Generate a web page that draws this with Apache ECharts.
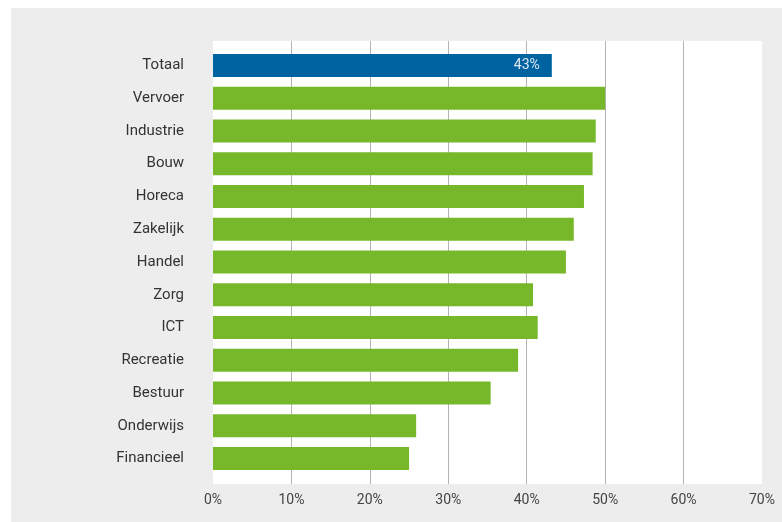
<!DOCTYPE html>
<html>
<head>
<meta charset="utf-8">
<script src="https://cdn.jsdelivr.net/npm/echarts@6/dist/echarts.min.js"></script>
<style>
html,body{margin:0;padding:0;background:#fff;}
#c{width:782px;height:522px;}
</style>
</head>
<body>
<div id="c"></div>
<script>
const categories = ['Totaal','Vervoer','Industrie','Bouw','Horeca','Zakelijk','Handel','Zorg','ICT','Recreatie','Bestuur','Onderwijs','Financieel'];
const values = [43.2, 50.0, 48.8, 48.4, 47.3, 46.0, 45.0, 40.8, 41.4, 38.9, 35.4, 25.9, 25.0];
const totalLabel = '43%';
const xTicks = [0, 10, 20, 30, 40, 50, 60, 70];

const chart = echarts.init(document.getElementById('c'), null, {renderer: 'canvas'});
const font = 'Roboto, "Liberation Sans", sans-serif';

const barData = values.map((v, i) => ({
  value: v,
  itemStyle: {color: i === 0 ? '#0063a1' : '#77b82a'},
  label: i === 0 ? {show: true, position: 'insideRight', distance: 12, formatter: totalLabel, color: '#dde8f2', fontSize: 14, fontFamily: font} : {show: false}
}));

chart.setOption({
  animation: false,
  graphic: [{
    type: 'rect', z: -10, silent: true,
    shape: {x: 11, y: 8, width: 771, height: 514},
    style: {fill: '#ededed'}
  }],
  grid: [
    {left: 213, right: 20, top: 41, bottom: 38, show: true, backgroundColor: '#ffffff', borderWidth: 0},
    {left: 213, right: 20, top: 49, bottom: 47}
  ],
  xAxis: [
    {
      gridIndex: 0, type: 'value', min: 0, max: 70, interval: 10,
      axisLine: {show: false}, axisTick: {show: false},
      splitLine: {show: true, showMinLine: false, showMaxLine: false, lineStyle: {color: '#b3b3b3', width: 1}},
      axisLabel: {formatter: v => xTicks.includes(v) ? v + '%' : '', color: '#444', fontSize: 14, fontFamily: font, margin: 9}
    },
    {
      gridIndex: 1, type: 'value', min: 0, max: 70, show: false, splitLine: {show: false}
    }
  ],
  yAxis: [
    {gridIndex: 0, type: 'category', data: categories, show: false, inverse: true},
    {
      gridIndex: 1, type: 'category', data: categories, inverse: true,
      axisLine: {show: false}, axisTick: {show: false}, splitLine: {show: false},
      axisLabel: {color: '#333', fontSize: 15, fontFamily: font, margin: 29}
    }
  ],
  series: [{
    type: 'bar', xAxisIndex: 1, yAxisIndex: 1,
    data: barData, barWidth: 23, barGap: '0%'
  }]
});
</script>
</body>
</html>
